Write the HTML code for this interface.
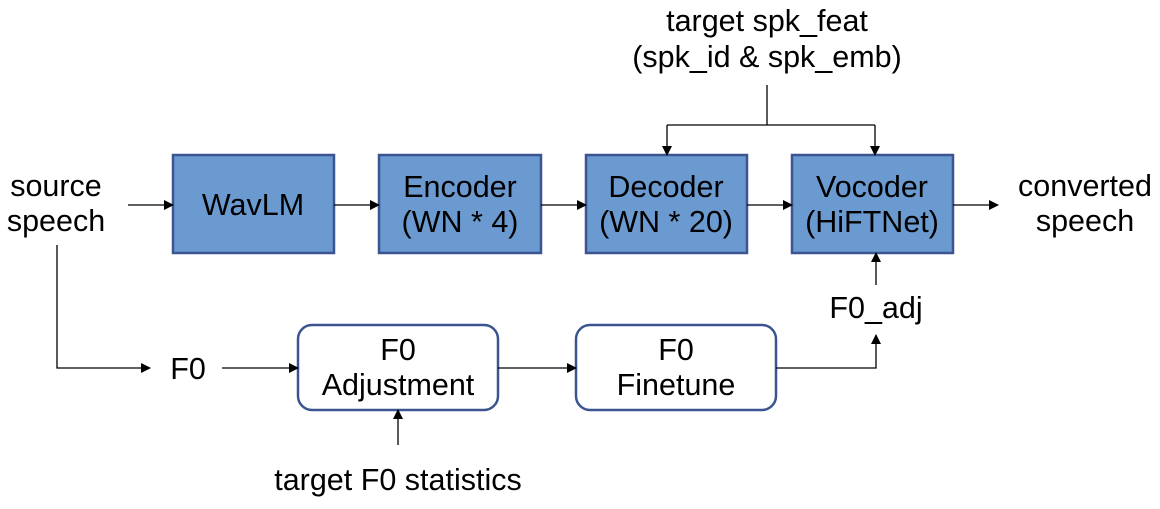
<!DOCTYPE html>
<html><head><style>
body{margin:0;background:#fff;}
svg text{font-family:"Liberation Sans",sans-serif;font-size:30.5px;fill:#000;text-anchor:middle;}
</style></head><body>
<svg width="1160" height="504" viewBox="0 0 1160 504" xmlns="http://www.w3.org/2000/svg">
<defs>
<marker id="a" markerWidth="10" markerHeight="10" refX="9" refY="5" orient="auto" markerUnits="userSpaceOnUse">
<path d="M0,0 L10,5 L0,10 z" fill="#000"/></marker>
</defs>
<g fill="#6a9ad0" stroke="#3a5590" stroke-width="2.5">
<rect x="173" y="155" width="161" height="98"/>
<rect x="379" y="155" width="162" height="98"/>
<rect x="586" y="155" width="161" height="98"/>
<rect x="792" y="155" width="161" height="98"/>
</g>
<g fill="#fff" stroke="#3a5590" stroke-width="2.5">
<rect x="298" y="325" width="200" height="85" rx="14"/>
<rect x="576" y="325" width="200" height="85" rx="14"/>
</g>
<g stroke="#000" stroke-width="1.3" fill="none">
<line x1="128" y1="205" x2="173" y2="205" marker-end="url(#a)"/>
<line x1="334" y1="205" x2="379" y2="205" marker-end="url(#a)"/>
<line x1="541" y1="205" x2="586" y2="205" marker-end="url(#a)"/>
<line x1="747" y1="205" x2="792" y2="205" marker-end="url(#a)"/>
<line x1="953" y1="205" x2="998" y2="205" marker-end="url(#a)"/>
<polyline points="767,85 767,125"/>
<polyline points="667,125 875,125"/>
<line x1="667" y1="125" x2="667" y2="155" marker-end="url(#a)"/>
<line x1="875" y1="125" x2="875" y2="155" marker-end="url(#a)"/>
<polyline points="57,245 57,368 150,368" marker-end="url(#a)"/>
<line x1="222" y1="368" x2="298" y2="368" marker-end="url(#a)"/>
<line x1="498" y1="368" x2="576" y2="368" marker-end="url(#a)"/>
<polyline points="776,368 876,368 876,335" marker-end="url(#a)"/>
<line x1="876" y1="285" x2="876" y2="253" marker-end="url(#a)"/>
<line x1="398" y1="445" x2="398" y2="410" marker-end="url(#a)"/>
</g>
<text x="56" y="196">source</text>
<text x="56" y="231">speech</text>
<text x="253" y="215">WavLM</text>
<text x="460" y="197">Encoder</text>
<text x="460" y="232">(WN * 4)</text>
<text x="666" y="197">Decoder</text>
<text x="666" y="232">(WN * 20)</text>
<text x="872" y="197">Vocoder</text>
<text x="872" y="232">(HiFTNet)</text>
<text x="1085" y="196">converted</text>
<text x="1085" y="231">speech</text>
<text x="767" y="31">target spk_feat</text>
<text x="767" y="67">(spk_id &amp; spk_emb)</text>
<text x="876" y="318">F0_adj</text>
<text x="188" y="379">F0</text>
<text x="398" y="360">F0</text>
<text x="398" y="395">Adjustment</text>
<text x="676" y="360">F0</text>
<text x="676" y="395">Finetune</text>
<text x="398" y="490">target F0 statistics</text>
</svg>
</body></html>
